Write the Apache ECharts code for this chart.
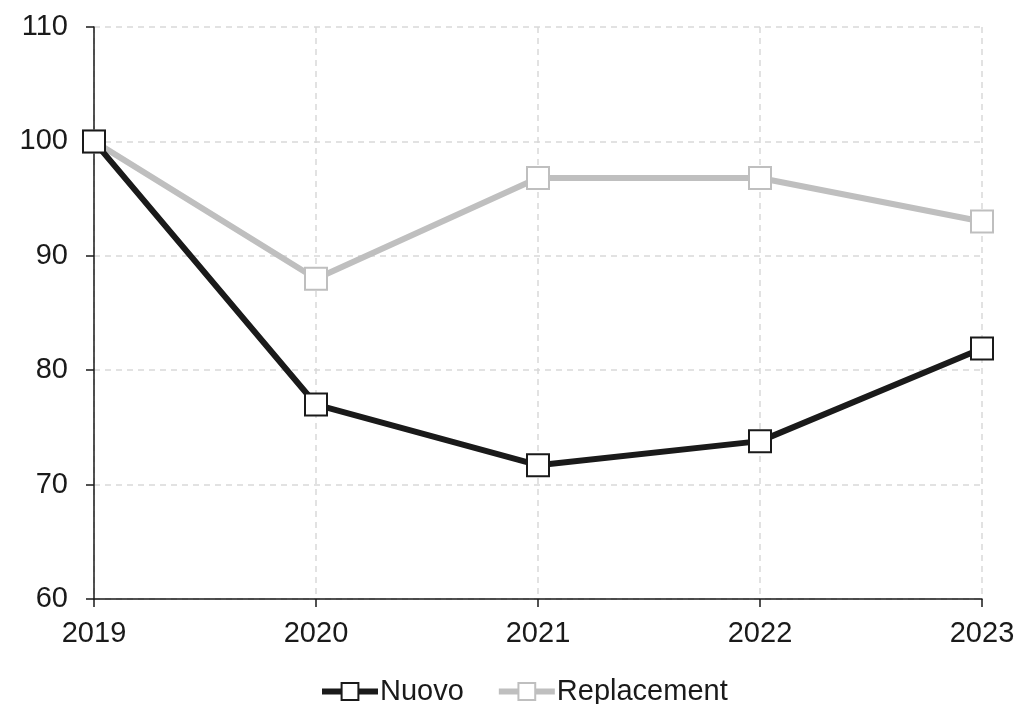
<!DOCTYPE html>
<html><head><meta charset="utf-8">
<script src="https://cdn.jsdelivr.net/npm/echarts@6/dist/echarts.min.js"></script>
<style>html,body{margin:0;padding:0;background:#fff}#c{width:1018px;height:704px}</style>
</head><body><div id="c"></div>
<script>
const years = ['2019', '2020', '2021', '2022', '2023'];
const nuovo = [100, 77.0, 71.7, 73.8, 81.9];
const replacement = [100, 88.0, 96.8, 96.8, 93.0];
const yTicks = { min: 60, max: 110, interval: 10 };

const chart = echarts.init(document.getElementById('c'));
const font = 'Liberation Sans, Arial, sans-serif';
function lineSeries(name, data, color, z) {
  return {
    name, type: 'line', data, z,
    symbol: 'rect', symbolSize: 22,
    lineStyle: { color, width: 6 },
    itemStyle: { color: '#fff', borderColor: color, borderWidth: 2 },
    emphasis: { disabled: true },
    animation: false
  };
}
chart.setOption({
  animation: false,
  grid: { left: 94, right: 36, top: 27, bottom: 105, containLabel: false },
  xAxis: {
    type: 'category', data: years, boundaryGap: false,
    axisLine: { lineStyle: { color: '#1a1a1a', width: 1.5 } },
    axisTick: { show: true, length: 8, lineStyle: { color: '#1a1a1a', width: 1.5 } },
    axisLabel: { color: '#1a1a1a', fontSize: 29, fontFamily: font, margin: 20 },
    splitLine: { show: true, lineStyle: { color: '#d9d9d9', type: [6, 5], width: 1.5 } }
  },
  yAxis: {
    type: 'value', min: yTicks.min, max: yTicks.max, interval: yTicks.interval,
    axisLine: { show: true, lineStyle: { color: '#1a1a1a', width: 1.5 } },
    axisTick: { show: true, length: 8, lineStyle: { color: '#1a1a1a', width: 1.5 } },
    axisLabel: { color: '#1a1a1a', fontSize: 29, fontFamily: font, margin: 26 },
    splitLine: { show: true, lineStyle: { color: '#d9d9d9', type: [6, 5], width: 1.5 } }
  },
  legend: {
    top: 672, left: 314, itemWidth: 56, itemHeight: 21, itemGap: 32,
    lineStyle: { width: 6 },
    textStyle: { color: '#1a1a1a', fontSize: 29, fontFamily: font, padding: [0, 0, 0, -3] },
    data: ['Nuovo', 'Replacement']
  },
  series: [
    lineSeries('Replacement', replacement, '#bfbfbf', 2),
    lineSeries('Nuovo', nuovo, '#1a1a1a', 3)
  ]
});
</script></body></html>
